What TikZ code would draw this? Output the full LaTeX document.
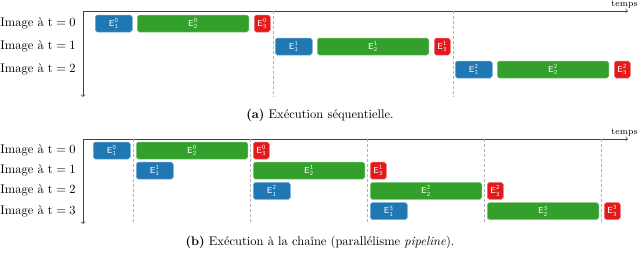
\documentclass[tikz,border=0pt]{standalone}
\usepackage{fontspec}
\usepackage{tikz}
\usetikzlibrary{positioning}

\definecolor{stageblue}{RGB}{31,119,180}
\definecolor{stagegreen}{RGB}{51,160,44}
\definecolor{stagered}{RGB}{227,26,28}

\tikzset{
    stagebox/.style={rounded corners=1.5pt, inner sep=0pt, anchor=west,
        minimum height=13.6pt, text=white, font=\scriptsize\sffamily, line width=0.4pt},
    stageone/.style={stagebox, fill=stageblue, draw=stageblue!60!white, minimum width=29.6pt},
    stagetwo/.style={stagebox, fill=stagegreen, draw=stagegreen!60!white, minimum width=89.2pt},
    stagethree/.style={stagebox, fill=stagered, draw=stagered!60!white, minimum width=12.8pt},
    rowlabel/.style={anchor=east, inner sep=0pt},
    timelabel/.style={anchor=south east, font=\scriptsize, inner sep=1pt},
    timeaxis/.style={->, black!75, line width=0.5pt},
    slotline/.style={dash pattern=on 2pt off 2pt, gray!60, line width=0.4pt}
}

\begin{document}
\begin{tikzpicture}[x=0.8pt, y=-0.8pt]

    \useasboundingbox (0,0) rectangle (640,268);

    % (a) sequential execution
    \coordinate (oa) at (83,11);
    \coordinate (ta) at (628,11);
    \coordinate (ba) at (83,97);
    \draw[timeaxis] (oa) -- (ta);
    \draw[timeaxis] (oa) -- (ba);
    \node[timelabel] (tempsa) at (639,10) {temps};

    \foreach \x in {273,453}
        \draw[slotline] (\x,11) -- (\x,97);

    \foreach \r in {0,1,2} {
        \node[rowlabel] (la\r) at (76,{23.5+23*\r}) {Image à $\mathrm{t} = \r$};
        \node[stageone]   (a\r-1) at ({95+180*\r},{23.5+23*\r})  {E$^{\mathsf{\r}}_{\mathsf{1}}$};
        \node[stagetwo]   (a\r-2) at ({137+180*\r},{23.5+23*\r}) {E$^{\mathsf{\r}}_{\mathsf{2}}$};
        \node[stagethree] (a\r-3) at ({254+180*\r},{23.5+23*\r}) {E$^{\mathsf{\r}}_{\mathsf{3}}$};
    }

    \node (capa) at (320,115) {\textbf{(a)} Exécution séquentielle.};

    % (b) pipelined execution
    \coordinate (ob) at (83,139);
    \coordinate (tb) at (628,139);
    \coordinate (bb) at (83,224);
    \draw[timeaxis] (ob) -- (tb);
    \draw[timeaxis] (ob) -- (bb);
    \node[timelabel] (tempsb) at (639,138) {temps};

    \foreach \x in {133,250,367,484,601}
        \draw[slotline] (\x,139) -- (\x,224);

    \foreach \r/\sa/\sb/\sc in {0/93/136/253, 1/136/253/370, 2/253/370/487, 3/370/487/604} {
        \node[rowlabel] (lb\r) at (76,{150.5+20.2*\r}) {Image à $\mathrm{t} = \r$};
        \node[stageone]   (b\r-1) at (\sa,{150.5+20.2*\r}) {E$^{\mathsf{\r}}_{\mathsf{1}}$};
        \node[stagetwo]   (b\r-2) at (\sb,{150.5+20.2*\r}) {E$^{\mathsf{\r}}_{\mathsf{2}}$};
        \node[stagethree] (b\r-3) at (\sc,{150.5+20.2*\r}) {E$^{\mathsf{\r}}_{\mathsf{3}}$};
    }

    \node (capb) at (320,242) {\textbf{(b)} Exécution à la chaîne (parallélisme \emph{pipeline}).};

\end{tikzpicture}
\end{document}
